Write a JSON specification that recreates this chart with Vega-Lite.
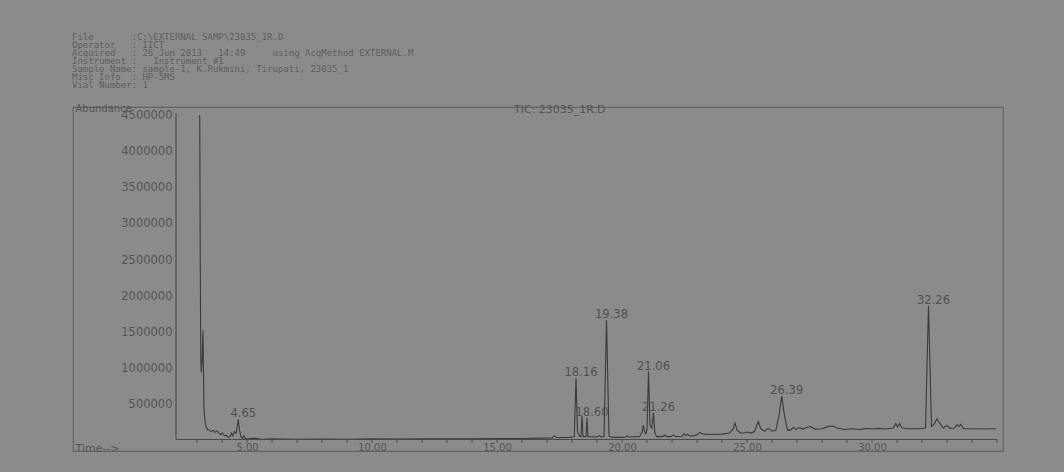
{
  "$schema": "https://vega.github.io/schema/vega-lite/v6.json",
  "width": 930,
  "height": 344,
  "autosize": "none",
  "padding": {"left": 73, "top": 107, "right": 61, "bottom": 21},
  "background": "#8b8b8b",
  "title": {
    "text": [
      "File\u00a0\u00a0\u00a0\u00a0\u00a0\u00a0\u00a0:C:\\EXTERNAL SAMP\\23035_1R.D",
      "Operator\u00a0\u00a0\u00a0: IICT",
      "Acquired\u00a0\u00a0\u00a0: 26 Jun 2013\u00a0\u00a0\u00a014:49\u00a0\u00a0\u00a0\u00a0\u00a0using AcqMethod EXTERNAL.M",
      "Instrument :\u00a0\u00a0\u00a0Instrument #1",
      "Sample Name: sample-1, K.Rukmini, Tirupati, 23035_1",
      "Misc Info\u00a0\u00a0: HP-5MS",
      "Vial Number: 1"
    ],
    "anchor": "start",
    "font": "DejaVu Sans Mono",
    "fontSize": 9,
    "fontWeight": "normal",
    "lineHeight": 8,
    "color": "#5e5e5e",
    "offset": 13,
    "dx": -1
  },
  "config": {
    "view": {"stroke": "#656565", "strokeWidth": 1.2},
    "axis": {"labelFont": "DejaVu Sans", "labelColor": "#555555", "titleFont": "DejaVu Sans", "titleColor": "#555555", "titleFontWeight": "normal", "grid": false, "labelOverlap": false}
  },
  "datasets": {
    "trace": [
      {"t": 3.08, "v": 4500000}, {"t": 3.11, "v": 4480000}, {"t": 3.13, "v": 2500000}, {"t": 3.15, "v": 1200000},
      {"t": 3.17, "v": 950000}, {"t": 3.20, "v": 1100000}, {"t": 3.24, "v": 1530000}, {"t": 3.26, "v": 900000},
      {"t": 3.28, "v": 450000}, {"t": 3.31, "v": 300000}, {"t": 3.36, "v": 200000}, {"t": 3.42, "v": 160000},
      {"t": 3.50, "v": 150000}, {"t": 3.58, "v": 130000}, {"t": 3.65, "v": 150000}, {"t": 3.72, "v": 120000},
      {"t": 3.80, "v": 140000}, {"t": 3.88, "v": 110000}, {"t": 3.95, "v": 90000}, {"t": 4.02, "v": 110000},
      {"t": 4.10, "v": 70000}, {"t": 4.18, "v": 80000}, {"t": 4.25, "v": 50000}, {"t": 4.32, "v": 60000},
      {"t": 4.38, "v": 110000}, {"t": 4.43, "v": 70000}, {"t": 4.50, "v": 130000}, {"t": 4.56, "v": 110000},
      {"t": 4.61, "v": 200000}, {"t": 4.65, "v": 300000}, {"t": 4.70, "v": 150000}, {"t": 4.76, "v": 60000},
      {"t": 4.82, "v": 40000}, {"t": 4.88, "v": 70000}, {"t": 4.93, "v": 35000}, {"t": 5.05, "v": 30000},
      {"t": 5.30, "v": 40000}, {"t": 5.60, "v": 25000}, {"t": 6.00, "v": 30000}, {"t": 7.00, "v": 25000},
      {"t": 8.00, "v": 28000}, {"t": 9.00, "v": 25000}, {"t": 10.00, "v": 30000}, {"t": 11.00, "v": 28000},
      {"t": 12.00, "v": 30000}, {"t": 13.00, "v": 30000}, {"t": 14.00, "v": 32000}, {"t": 15.00, "v": 33000},
      {"t": 16.00, "v": 35000}, {"t": 16.80, "v": 40000}, {"t": 17.20, "v": 42000}, {"t": 17.30, "v": 70000},
      {"t": 17.40, "v": 45000}, {"t": 17.90, "v": 50000}, {"t": 18.09, "v": 60000}, {"t": 18.16, "v": 866000},
      {"t": 18.22, "v": 130000}, {"t": 18.26, "v": 100000}, {"t": 18.30, "v": 65000}, {"t": 18.36, "v": 60000},
      {"t": 18.40, "v": 345000}, {"t": 18.44, "v": 60000}, {"t": 18.56, "v": 60000}, {"t": 18.60, "v": 320000},
      {"t": 18.64, "v": 60000}, {"t": 19.00, "v": 55000}, {"t": 19.10, "v": 75000}, {"t": 19.16, "v": 55000},
      {"t": 19.28, "v": 60000}, {"t": 19.38, "v": 1670000}, {"t": 19.48, "v": 70000}, {"t": 19.60, "v": 50000},
      {"t": 20.00, "v": 50000}, {"t": 20.15, "v": 55000}, {"t": 20.20, "v": 75000}, {"t": 20.25, "v": 55000},
      {"t": 20.70, "v": 60000}, {"t": 20.80, "v": 120000}, {"t": 20.85, "v": 220000}, {"t": 20.90, "v": 130000},
      {"t": 20.95, "v": 100000}, {"t": 21.00, "v": 150000}, {"t": 21.06, "v": 960000}, {"t": 21.12, "v": 220000},
      {"t": 21.19, "v": 180000}, {"t": 21.26, "v": 390000}, {"t": 21.31, "v": 120000}, {"t": 21.38, "v": 60000},
      {"t": 21.60, "v": 60000}, {"t": 21.72, "v": 80000}, {"t": 21.80, "v": 60000}, {"t": 21.95, "v": 60000},
      {"t": 22.05, "v": 85000}, {"t": 22.15, "v": 60000}, {"t": 22.40, "v": 65000}, {"t": 22.48, "v": 100000},
      {"t": 22.55, "v": 75000}, {"t": 22.62, "v": 95000}, {"t": 22.70, "v": 70000}, {"t": 22.90, "v": 75000},
      {"t": 23.00, "v": 85000}, {"t": 23.10, "v": 120000}, {"t": 23.25, "v": 95000}, {"t": 23.50, "v": 90000},
      {"t": 24.00, "v": 95000}, {"t": 24.30, "v": 110000}, {"t": 24.45, "v": 170000}, {"t": 24.52, "v": 250000},
      {"t": 24.60, "v": 150000}, {"t": 24.75, "v": 110000}, {"t": 24.90, "v": 115000}, {"t": 25.00, "v": 125000},
      {"t": 25.15, "v": 110000}, {"t": 25.30, "v": 130000}, {"t": 25.45, "v": 270000}, {"t": 25.55, "v": 170000},
      {"t": 25.70, "v": 135000}, {"t": 25.85, "v": 175000}, {"t": 26.00, "v": 140000}, {"t": 26.15, "v": 145000},
      {"t": 26.28, "v": 350000}, {"t": 26.39, "v": 620000}, {"t": 26.50, "v": 350000}, {"t": 26.62, "v": 150000},
      {"t": 26.75, "v": 150000}, {"t": 26.85, "v": 190000}, {"t": 26.95, "v": 160000}, {"t": 27.10, "v": 185000},
      {"t": 27.25, "v": 165000}, {"t": 27.40, "v": 190000}, {"t": 27.55, "v": 200000}, {"t": 27.70, "v": 165000},
      {"t": 28.00, "v": 170000}, {"t": 28.20, "v": 195000}, {"t": 28.40, "v": 210000}, {"t": 28.60, "v": 180000},
      {"t": 28.90, "v": 160000}, {"t": 29.20, "v": 170000}, {"t": 29.50, "v": 160000}, {"t": 29.80, "v": 175000},
      {"t": 30.00, "v": 165000}, {"t": 30.30, "v": 175000}, {"t": 30.50, "v": 165000}, {"t": 30.85, "v": 180000},
      {"t": 30.95, "v": 240000}, {"t": 31.02, "v": 195000}, {"t": 31.10, "v": 240000}, {"t": 31.20, "v": 180000},
      {"t": 31.50, "v": 170000}, {"t": 31.80, "v": 170000}, {"t": 32.14, "v": 180000}, {"t": 32.26, "v": 1870000},
      {"t": 32.38, "v": 200000}, {"t": 32.50, "v": 240000}, {"t": 32.60, "v": 310000}, {"t": 32.70, "v": 250000},
      {"t": 32.85, "v": 180000}, {"t": 33.00, "v": 215000}, {"t": 33.12, "v": 175000}, {"t": 33.30, "v": 180000},
      {"t": 33.40, "v": 225000}, {"t": 33.48, "v": 205000}, {"t": 33.56, "v": 230000}, {"t": 33.66, "v": 170000},
      {"t": 34.00, "v": 170000}, {"t": 34.50, "v": 165000}, {"t": 34.95, "v": 170000}
    ],
    "peaks": [
      {"t": 4.65, "v": 300000, "label": "4.65"},
      {"t": 18.16, "v": 866000, "label": "18.16"},
      {"t": 18.60, "v": 320000, "label": "18.60"},
      {"t": 19.38, "v": 1670000, "label": "19.38"},
      {"t": 21.06, "v": 960000, "label": "21.06"},
      {"t": 21.26, "v": 390000, "label": "21.26"},
      {"t": 26.39, "v": 620000, "label": "26.39"},
      {"t": 32.26, "v": 1870000, "label": "32.26"}
    ],
    "minutes": [
      {"m": 3}, {"m": 4}, {"m": 5}, {"m": 6}, {"m": 7}, {"m": 8}, {"m": 9}, {"m": 10}, {"m": 11},
      {"m": 12}, {"m": 13}, {"m": 14}, {"m": 15}, {"m": 16}, {"m": 17}, {"m": 18}, {"m": 19}, {"m": 20},
      {"m": 21}, {"m": 22}, {"m": 23}, {"m": 24}, {"m": 25}, {"m": 26}, {"m": 27}, {"m": 28}, {"m": 29},
      {"m": 30}, {"m": 31}, {"m": 32}, {"m": 33}, {"m": 34}, {"m": 35}
    ]
  },
  "layer": [
    {
      "data": {"name": "trace"},
      "mark": {"type": "line", "color": "#3a3a3a", "strokeWidth": 1.1, "clip": false},
      "encoding": {
        "x": {
          "field": "t", "type": "quantitative",
          "scale": {"domain": [-1.96, 35.24], "nice": false, "zero": false},
          "axis": {
            "orient": "bottom", "offset": -10, "domain": false,
            "values": [5, 10, 15, 20, 25, 30],
            "format": ".2f",
            "labelOverlap": false, "labelFlush": false,
            "ticks": false,
            "labelFontSize": 10, "labelPadding": 1,
            "title": "Time-->", "titleFontSize": 11, "titleAlign": "left", "titleBaseline": "top",
            "titleX": 2, "titleY": 1
          }
        },
        "y": {
          "field": "v", "type": "quantitative",
          "scale": {"domain": [-138000, 4615000], "nice": false, "zero": false},
          "axis": {
            "orient": "left", "offset": -103, "domain": false, "ticks": false,
            "values": [500000, 1000000, 1500000, 2000000, 2500000, 3000000, 3500000, 4000000, 4500000],
            "format": "d", "labelFontSize": 11.5, "labelPadding": 4, "labelOverlap": false,
            "title": "Abundance", "titleFontSize": 10, "titleAngle": 0, "titleAlign": "left", "titleBaseline": "alphabetic",
            "titleX": -101, "titleY": 4
          }
        }
      }
    },
    {
      "data": {"name": "peaks"},
      "mark": {"type": "text", "font": "DejaVu Sans", "fontSize": 11.5, "color": "#505050", "dx": 5, "dy": -5, "baseline": "middle", "align": "center"},
      "encoding": {
        "x": {"field": "t", "type": "quantitative", "scale": {"domain": [-1.96, 35.24], "nice": false, "zero": false}},
        "y": {"field": "v", "type": "quantitative", "scale": {"domain": [-138000, 4615000], "nice": false, "zero": false}},
        "text": {"field": "label"}
      }
    },
    {
      "data": {"name": "minutes"},
      "mark": {"type": "rule", "color": "#4d4d4d", "strokeWidth": 1},
      "encoding": {
        "x": {"field": "m", "type": "quantitative", "scale": {"domain": [-1.96, 35.24], "nice": false, "zero": false}},
        "y": {"datum": 20000, "type": "quantitative"},
        "y2": {"datum": -25000}
      }
    },
    {
      "data": {"values": [{}]},
      "mark": {"type": "rule", "color": "#4a4a4a", "strokeWidth": 1.1},
      "encoding": {
        "x": {"datum": 2.16, "type": "quantitative"},
        "x2": {"datum": 35.0},
        "y": {"datum": 20000, "type": "quantitative"}
      }
    },
    {
      "data": {"values": [{}]},
      "mark": {"type": "rule", "color": "#4a4a4a", "strokeWidth": 1.1},
      "encoding": {
        "x": {"datum": 2.16, "type": "quantitative"},
        "y": {"datum": 20000, "type": "quantitative"},
        "y2": {"datum": 4530000}
      }
    },
    {
      "data": {"values": [{"label": "TIC: 23035_1R.D"}]},
      "mark": {"type": "text", "font": "DejaVu Sans", "fontSize": 11, "color": "#555555", "align": "left", "baseline": "middle"},
      "encoding": {
        "x": {"datum": 15.68, "type": "quantitative"},
        "y": {"datum": 4575000, "type": "quantitative"},
        "text": {"field": "label"}
      }
    }
  ]
}
